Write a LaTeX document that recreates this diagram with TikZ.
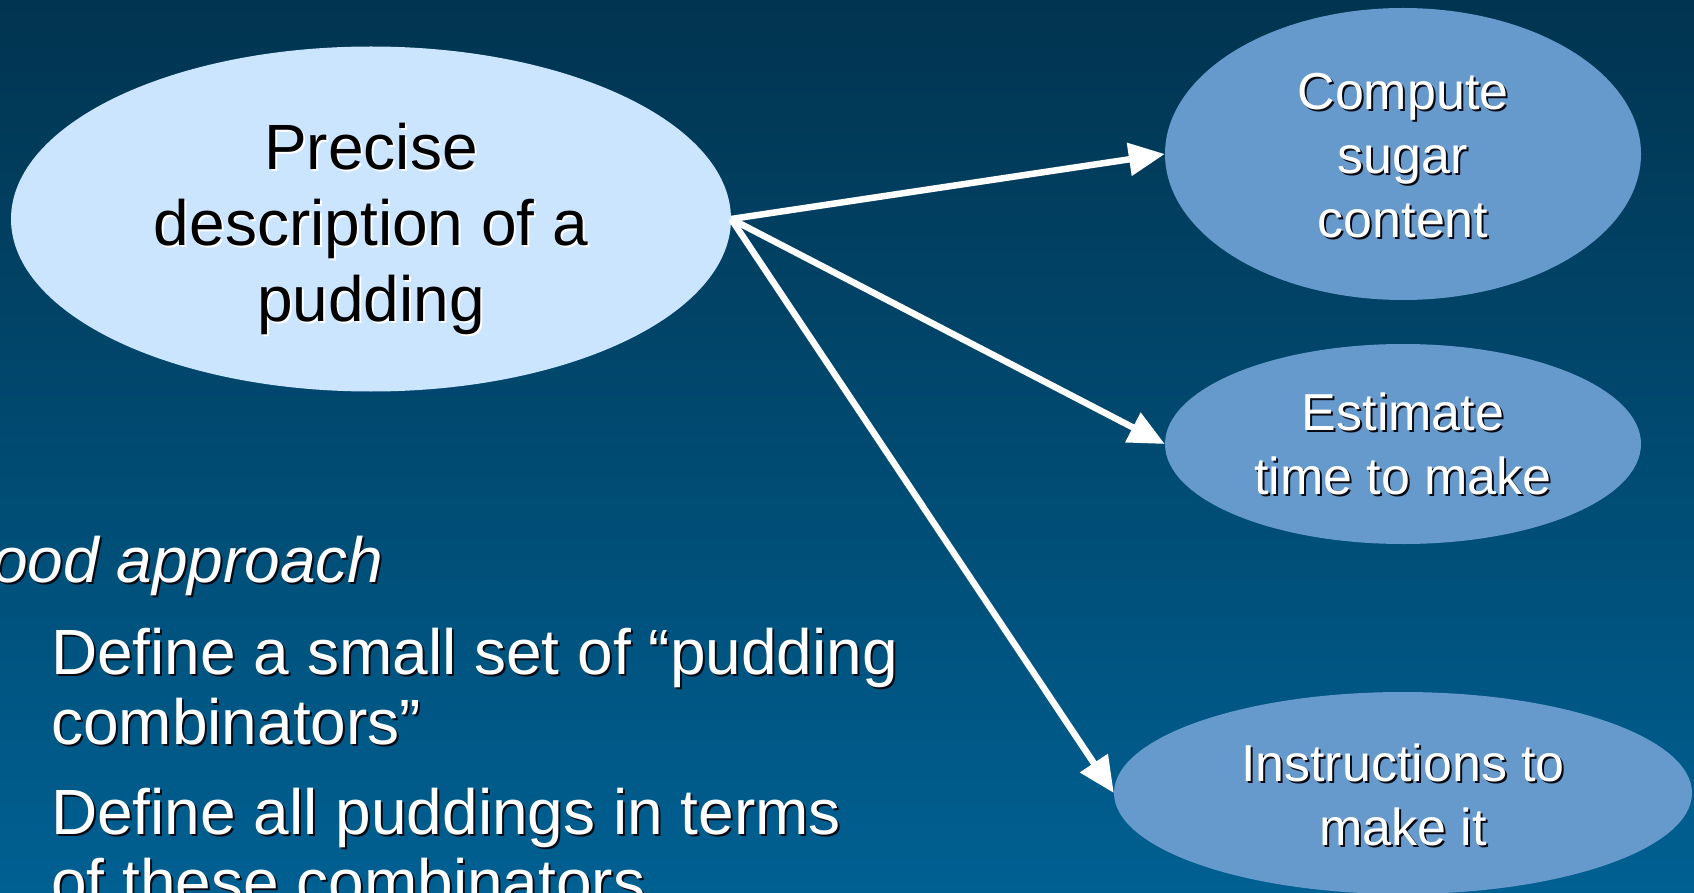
\documentclass[tikz,border=0pt]{standalone}
\usepackage{fontspec}
\setmainfont{Liberation Sans}
\usetikzlibrary{shapes.geometric,arrows.meta}
\definecolor{bgtop}{RGB}{1,52,80}
\definecolor{bgbot}{RGB}{0,96,146}
\definecolor{lightell}{RGB}{204,229,255}
\definecolor{midell}{RGB}{102,153,204}
\definecolor{shadowdark}{RGB}{10,10,20}
\tikzset{
  ell/.style={ellipse, draw=none, inner sep=0pt},
  bigell/.style={ell, fill=lightell},
  smallell/.style={ell, fill=midell},
  bigtxt/.style={align=center, inner sep=0pt, font=\fontsize{64}{76}\selectfont},
  smalltxt/.style={align=center, inner sep=0pt, font=\fontsize{52}{64}\selectfont},
  listtxt/.style={align=left, inner sep=0pt, font=\fontsize{64}{70}\selectfont},
  conn/.style={draw=white, line width=6.5pt, -{Triangle[length=36pt,width=32pt]}},
}
\begin{document}
\begin{tikzpicture}[x=1pt,y=-1pt]
\useasboundingbox (0,0) rectangle (1694,893);
\clip (0,0) rectangle (1694,893);
\shade[top color=bgtop,bottom color=bgbot] (0,0) rectangle (1694,893);

% ellipses
\node[bigell, minimum width=720pt, minimum height=345pt] (big) at (371,219) {};
\node[smallell, minimum width=476pt, minimum height=292pt] (cmp) at (1403,154) {};
\node[smallell, minimum width=476pt, minimum height=200pt] (est) at (1403,444) {};
\node[smallell, minimum width=578pt, minimum height=202pt] (ins) at (1403,793) {};

% connectors
\draw[conn] (big.east) -- (cmp.west);
\draw[conn] (big.east) -- (est.west);
\draw[conn] (big.east) -- (ins.west);

% ellipse texts (with shadows)
\node[bigtxt, text=white] (bigs) at (373,231) {Precise\\description of a\\pudding};
\node[bigtxt, text=black] (bigt) at (371,229) {Precise\\description of a\\pudding};

\node[smalltxt, text=shadowdark] (cmps) at (1405,158) {Compute\\sugar\\content};
\node[smalltxt, text=white] (cmpt) at (1403,156) {Compute\\sugar\\content};

\node[smalltxt, text=shadowdark] (ests) at (1405,446) {Estimate\\time to make};
\node[smalltxt, text=white] (estt) at (1403,444) {Estimate\\time to make};

\node[smalltxt, text=shadowdark] (inss) at (1405,797) {Instructions to\\make it};
\node[smalltxt, text=white] (inst) at (1403,795) {Instructions to\\make it};

% left list text
\node[listtxt, text=shadowdark, anchor=base west, font=\fontsize{64}{70}\selectfont\itshape] (l0s) at (-6,584) {ood approach};
\node[listtxt, text=white, anchor=base west, font=\fontsize{64}{70}\selectfont\itshape] (l0) at (-8,582) {ood approach};

\node[listtxt, text=shadowdark, anchor=north west] (l1s) at (53,630) {Define a small set of “pudding\\combinators”};
\node[listtxt, text=white, anchor=north west] (l1) at (51,628) {Define a small set of “pudding\\combinators”};

\node[listtxt, text=shadowdark, anchor=north west] (l2s) at (53,790) {Define all puddings in terms\\of these combinators};
\node[listtxt, text=white, anchor=north west] (l2) at (51,788) {Define all puddings in terms\\of these combinators};
\end{tikzpicture}
\end{document}
